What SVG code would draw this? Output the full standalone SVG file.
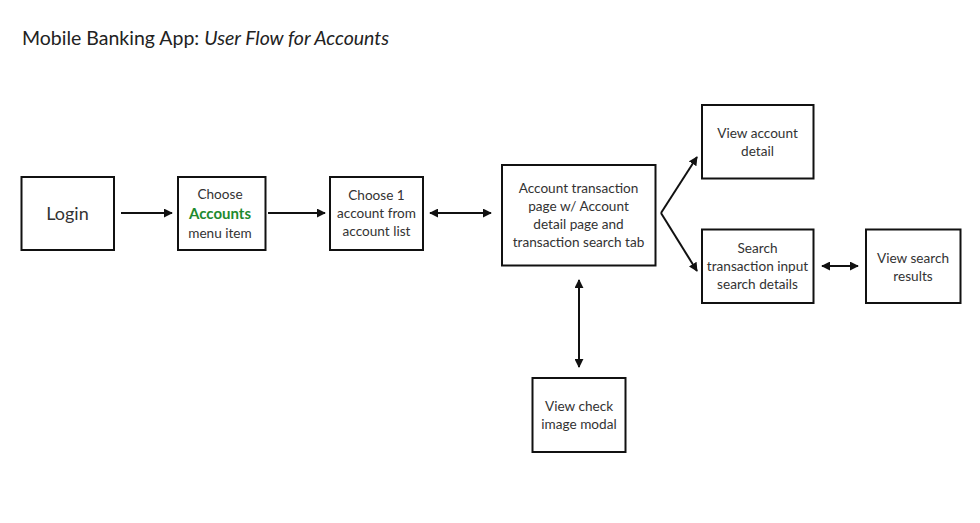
<svg xmlns="http://www.w3.org/2000/svg" width="980" height="523" viewBox="0 0 980 523">
<style>
.box{fill:#fff;stroke:#111;stroke-width:2}
.t{font-family:Lato,"Noto Sans","Liberation Sans",sans-serif;font-size:13.6px;fill:#333;text-anchor:middle}
.big{font-size:18px}
.acc{font-weight:bold;fill:#1e8a2e;font-size:15px}
.c{fill:none;stroke:#111;stroke-width:2}
</style>
<defs>
<marker id="ah" viewBox="0 0 10 10" refX="9" refY="5" markerWidth="4.5" markerHeight="4.5" orient="auto-start-reverse">
<path d="M0,0 L10,5 L0,10 z" fill="#111"/>
</marker>
</defs>
<rect width="980" height="523" fill="#fff"/>
<text x="22" y="45" font-family="Lato,'Noto Sans','Liberation Sans',sans-serif" font-size="19.5" fill="#222">Mobile Banking App: <tspan font-style="italic">User Flow for Accounts</tspan></text>
<g id="connectors">
<line class="c" x1="121" y1="213" x2="172" y2="213" marker-end="url(#ah)"/>
<line class="c" x1="268" y1="213" x2="325" y2="213" marker-end="url(#ah)"/>
<line class="c" x1="430" y1="213" x2="491" y2="213" marker-start="url(#ah)" marker-end="url(#ah)"/>
<line class="c" x1="661" y1="213" x2="697" y2="157" marker-end="url(#ah)"/>
<line class="c" x1="661" y1="213" x2="697" y2="271" marker-end="url(#ah)"/>
<line class="c" x1="822" y1="266" x2="858" y2="266" marker-start="url(#ah)" marker-end="url(#ah)"/>
<line class="c" x1="579" y1="280" x2="579" y2="367" marker-start="url(#ah)" marker-end="url(#ah)"/>
</g>
<g id="login">
<rect class="box" x="21.5" y="177" width="92.5" height="73"/>
<text class="t big" x="67.5" y="220">Login</text>
</g>
<g id="choose-accounts">
<rect class="box" x="178" y="177" width="87.5" height="73"/>
<text class="t" x="220" y="199">Choose</text>
<text class="t acc" x="220" y="219">Accounts</text>
<text class="t" x="220" y="238">menu item</text>
</g>
<g id="choose-account">
<rect class="box" x="330" y="177" width="93" height="73"/>
<text class="t" x="376.5" y="200">Choose 1</text>
<text class="t" x="376.5" y="218">account from</text>
<text class="t" x="376.5" y="236">account list</text>
</g>
<g id="account-transaction">
<rect class="box" x="502" y="165" width="153.5" height="100.5"/>
<text class="t" x="578.5" y="193">Account transaction</text>
<text class="t" x="578.5" y="211">page w/ Account</text>
<text class="t" x="578.5" y="229">detail page and</text>
<text class="t" x="578.5" y="247">transaction search tab</text>
</g>
<g id="view-account-detail">
<rect class="box" x="702" y="105" width="111.5" height="73.5"/>
<text class="t" x="757.5" y="138">View account</text>
<text class="t" x="757.5" y="156">detail</text>
</g>
<g id="search-transaction">
<rect class="box" x="702" y="229.5" width="111.5" height="73.5"/>
<text class="t" x="757.5" y="253">Search</text>
<text class="t" x="757.5" y="271">transaction input</text>
<text class="t" x="757.5" y="289">search details</text>
</g>
<g id="view-search-results">
<rect class="box" x="866" y="229.5" width="94.5" height="73.5"/>
<text class="t" x="913" y="262.5">View search</text>
<text class="t" x="913" y="280.5">results</text>
</g>
<g id="view-check">
<rect class="box" x="532.5" y="378" width="93" height="74"/>
<text class="t" x="579" y="411">View check</text>
<text class="t" x="579" y="429">image modal</text>
</g>
</svg>
